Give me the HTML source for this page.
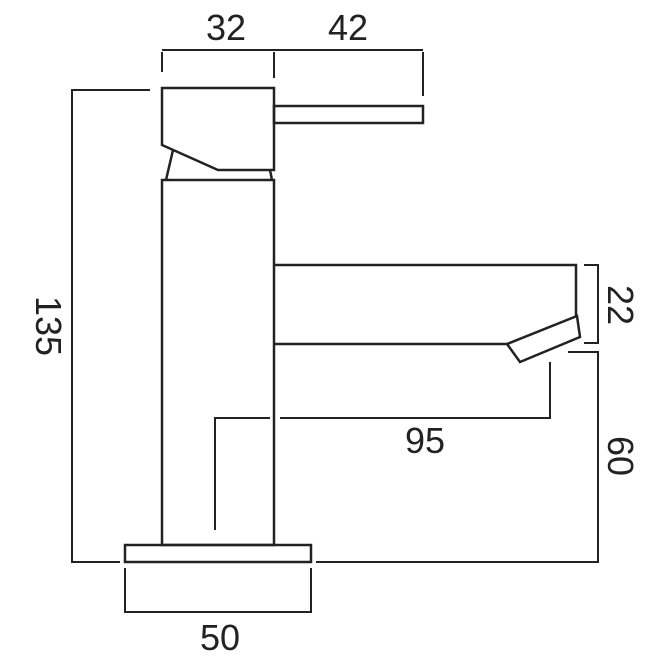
<!DOCTYPE html>
<html><head><style>html,body{margin:0;padding:0;background:#fff}svg{display:block}</style></head>
<body>
<svg width="671" height="669" viewBox="0 0 671 669" xmlns="http://www.w3.org/2000/svg">
<g fill="none" stroke="#222" stroke-width="2.5" stroke-linejoin="miter">
<!-- head -->
<path d="M162 88 H274 V170 H218 L162 145 Z"/>
<rect x="274" y="106" width="149" height="17"/>
<path d="M173 150 L166 180 M270 170 L272 180"/>
<!-- body -->
<rect x="162" y="180" width="112" height="365"/>
<!-- spout -->
<path d="M274 265 H576 V316 M274 344 H507"/>
<path d="M507 344 L577 316 L580 337 L520 362 Z"/>
<!-- base -->
<rect x="125" y="545" width="186" height="17"/>
</g>
<g fill="none" stroke="#222" stroke-width="2">
<!-- 32/42 -->
<path d="M162 52 V72 M274 52 V78 M423 52 V96 M162 50 H423"/>
<!-- 135 -->
<path d="M150 90 H72 V562 H120"/>
<!-- 22 -->
<path d="M584 265 H598 V343 H584"/>
<!-- 60 -->
<path d="M568 352 H598 V562 H316"/>
<!-- 95 -->
<path d="M550 362 V418 H280 M270 418 H215 V530"/>
<!-- 50 -->
<path d="M125 568 V612 H311 V568"/>
</g>
<g font-family="Liberation Sans, sans-serif" font-size="36" fill="#222" text-anchor="middle">
<text x="226" y="40">32</text>
<text x="348" y="40">42</text>
<text x="425" y="453">95</text>
<text x="220" y="650">50</text>
<text transform="translate(36 326) rotate(90)">135</text>
<text transform="translate(608 305) rotate(90)">22</text>
<text transform="translate(608 456) rotate(90)">60</text>
</g>
</svg>
</body></html>
